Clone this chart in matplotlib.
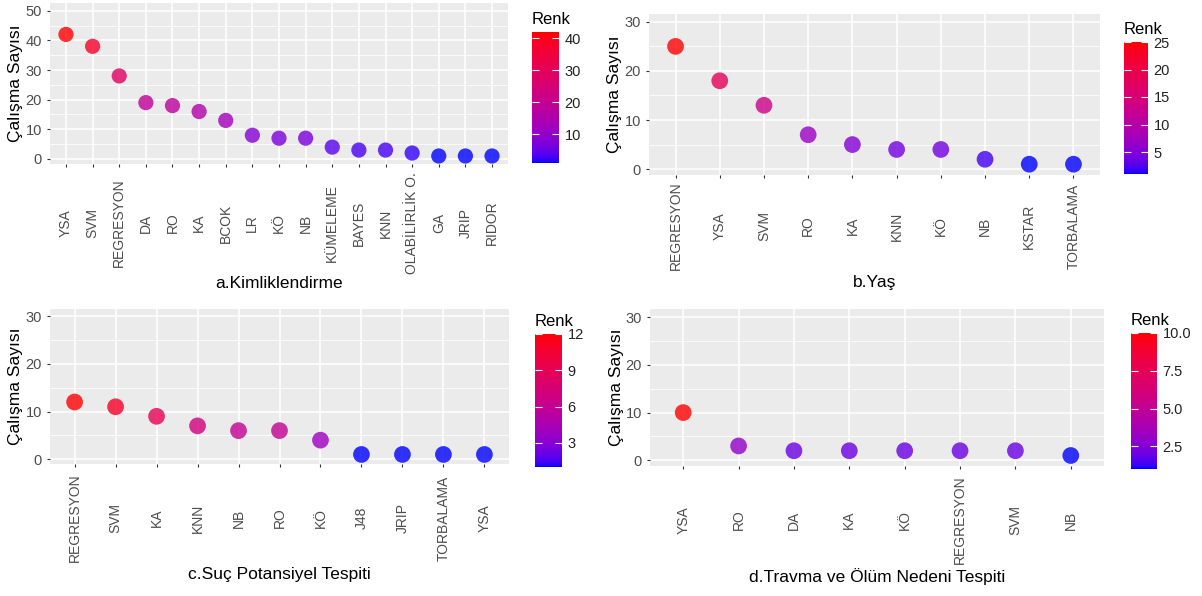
import numpy as np
import matplotlib
matplotlib.use('Agg')
import matplotlib.pyplot as plt
from matplotlib.colors import ListedColormap, Normalize
from matplotlib.cm import ScalarMappable
from matplotlib.ticker import MultipleLocator, FormatStrFormatter, NullLocator

plt.rcParams['font.family'] = ['Liberation Sans', 'DejaVu Sans']

# --- data ---
kim_labels = ['YSA', 'SVM', 'REGRESYON', 'DA', 'RO', 'KA', 'BCOK', 'LR', 'KÖ', 'NB',
              'KÜMELEME', 'BAYES', 'KNN', 'OLABİLİRLİK O.', 'GA', 'JRIP', 'RIDOR']
kim_values = [42, 38, 28, 19, 18, 16, 13, 8, 7, 7, 4, 3, 3, 2, 1, 1, 1]

yas_labels = ['REGRESYON', 'YSA', 'SVM', 'RO', 'KA', 'KNN', 'KÖ', 'NB', 'KSTAR', 'TORBALAMA']
yas_values = [25, 18, 13, 7, 5, 4, 4, 2, 1, 1]

suc_labels = ['REGRESYON', 'SVM', 'KA', 'KNN', 'NB', 'RO', 'KÖ', 'J48', 'JRIP', 'TORBALAMA', 'YSA']
suc_values = [12, 11, 9, 7, 6, 6, 4, 1, 1, 1, 1]

trv_labels = ['YSA', 'RO', 'DA', 'KA', 'KÖ', 'REGRESYON', 'SVM', 'NB']
trv_values = [10, 3, 2, 2, 2, 2, 2, 1]

titles = ['a.Kimliklendirme', 'b.Yaş', 'c.Suç Potansiyel Tespiti', 'd.Travma ve Ölüm Nedeni Tespiti']

W, H = 1202, 596

# blue -> red gradient interpolated in CIELAB (like ggplot's scale_colour_gradient)
M = np.array([[0.4124564, 0.3575761, 0.1804375],
              [0.2126729, 0.7151522, 0.0721750],
              [0.0193339, 0.1191920, 0.9503041]])
WHITE = np.array([0.95047, 1.0, 1.08883])


def srgb_to_lab(c):
    c = np.asarray(c, float)
    lin = np.where(c <= 0.04045, c / 12.92, ((c + 0.055) / 1.055) ** 2.4)
    xyz = M @ lin / WHITE
    f = np.where(xyz > 216 / 24389, np.cbrt(xyz), (24389 / 27 * xyz + 16) / 116)
    return np.array([116 * f[1] - 16, 500 * (f[0] - f[1]), 200 * (f[1] - f[2])])


def lab_to_srgb(lab):
    L, a, b = lab
    fy = (L + 16) / 116
    f = np.array([fy + a / 500, fy, fy - b / 200])
    xyz = np.where(f ** 3 > 216 / 24389, f ** 3, (116 * f - 16) / (24389 / 27)) * WHITE
    lin = np.clip(np.linalg.solve(M, xyz), 0, 1)
    c = np.where(lin <= 0.0031308, 12.92 * lin, 1.055 * lin ** (1 / 2.4) - 0.055)
    return np.clip(c, 0, 1)


lab_lo = srgb_to_lab([0, 0, 1])
lab_hi = srgb_to_lab([1, 0, 0])
ramp = [lab_to_srgb((1 - t) * lab_lo + t * lab_hi) for t in np.linspace(0, 1, 256)]
cmap = ListedColormap(ramp)


def px_rect(l, t, r, b):
    return [l / W, 1 - b / H, (r - l) / W, (b - t) / H]


def panel(fig, rect, cbrect, labels, values, title, ylim, ticks, cticks, cfmt,
          lab_center, title_y, size):
    ax = fig.add_axes(px_rect(*rect))
    hpx = rect[3] - rect[1]
    x = np.arange(len(labels))
    norm = Normalize(min(values), max(values))
    ax.scatter(x, values, c=values, cmap=cmap, norm=norm, s=size, alpha=0.8,
               linewidths=0, zorder=3)
    ax.set_facecolor('#EBEBEB')
    for s in ax.spines.values():
        s.set_visible(False)
    ax.set_xlim(-0.6, len(labels) - 0.4)
    ax.set_ylim(*ylim)
    ax.set_yticks(ticks)
    ax.yaxis.set_minor_locator(MultipleLocator(5))
    ax.xaxis.set_minor_locator(NullLocator())
    ax.set_xticks(x)
    ax.set_xticklabels(labels, rotation=90, va='center', ha='center', fontsize=10)
    ax.grid(which='major', color='white', lw=1.1)
    ax.grid(which='minor', axis='y', color='white', lw=0.55)
    ax.set_axisbelow(True)
    ticklen = 2.2
    ax.tick_params(which='major', length=ticklen, width=0.8, color='#333333',
                   labelcolor='#4D4D4D')
    ax.tick_params(axis='y', pad=3.5, labelsize=10.5)
    ax.tick_params(axis='x', pad=(lab_center - rect[3]) * 0.72 - ticklen)
    ax.tick_params(which='minor', length=0)
    ax.set_ylabel('Çalışma Sayısı', fontsize=12.5, color='black', va='center')
    ax.yaxis.set_label_coords(-34 / (rect[2] - rect[0]), 0.5)
    ax.set_xlabel(title, fontsize=12.5, color='black', va='center')
    ax.xaxis.set_label_coords(0.5, -(title_y - rect[3]) / hpx)

    cax = fig.add_axes(px_rect(*cbrect))
    cb = fig.colorbar(ScalarMappable(norm=norm, cmap=cmap), cax=cax)
    cb.outline.set_visible(False)
    cb.set_ticks(cticks)
    cax.yaxis.set_major_formatter(FormatStrFormatter(cfmt))
    cax.tick_params(direction='in', color='white', length=5, width=0.8,
                    left=True, right=True, labelsize=10.5, labelcolor='#222222', pad=4)
    cax.set_title('Renk', loc='left', fontsize=12, pad=6)
    return ax


fig = plt.figure(figsize=(W / 100, H / 100), dpi=100)

panel(fig, (50, 3, 508, 164), (532, 32, 559, 163), kim_labels, kim_values, titles[0],
      (-1.7, 52.6), [0, 10, 20, 30, 40, 50], [10, 20, 30, 40], '%d', 223, 283, 120)
panel(fig, (649, 14, 1100, 175), (1124, 42, 1148, 174), yas_labels, yas_values, titles[1],
      (-1.2, 31.6), [0, 10, 20, 30], [5, 10, 15, 20, 25], '%d', 226, 283, 145)
panel(fig, (50, 309, 509, 464), (535, 334, 562, 467), suc_labels, suc_values, titles[2],
      (-1.0, 31.5), [0, 10, 20, 30], [3, 6, 9, 12], '%d', 518, 575, 145)
panel(fig, (650, 309, 1104, 466), (1131, 333, 1157, 469), trv_labels, trv_values, titles[3],
      (-1.2, 31.7), [0, 10, 20, 30], [2.5, 5.0, 7.5, 10.0], '%.1f', 520, 577, 145)

fig.savefig('out.png', dpi=100, facecolor='white')
